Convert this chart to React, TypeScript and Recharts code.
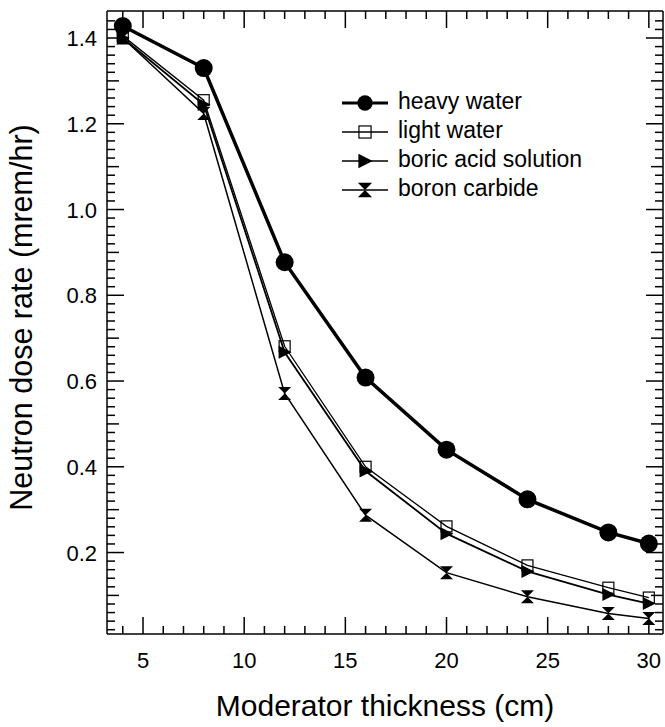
import React from "react";
import { LineChart, Line, XAxis, YAxis, Legend, ReferenceLine } from "recharts";

// moderator thickness (cm) and dose rates (mrem/hr)
const thickness = [4, 8, 12, 16, 20, 24, 28, 30];
const heavyWater = [1.428, 1.33, 0.877, 0.608, 0.44, 0.324, 0.247, 0.221];
const lightWater = [1.405, 1.255, 0.681, 0.4, 0.261, 0.17, 0.118, 0.095];
const boricAcid = [1.4, 1.245, 0.667, 0.39, 0.244, 0.156, 0.102, 0.081];
const boronCarbide = [1.4, 1.224, 0.571, 0.287, 0.153, 0.097, 0.058, 0.046];

const xLabels = [5, 10, 15, 20, 25, 30];
const yLabels = [0.2, 0.4, 0.6, 0.8, 1.0, 1.2, 1.4];

// minor ticks: every 1 cm, every 0.02 mrem/hr
const xTicks = Array.from({ length: 27 }, (_, i) => i + 4);
const yTicks = Array.from({ length: 72 }, (_, i) => ((i + 1) * 2) / 100);

const X_DOMAIN: [number, number] = [3.22, 30.7];
const Y_DOMAIN: [number, number] = [0.01, 1.463];

const data = thickness.map((x, i) => ({
  x,
  heavy: heavyWater[i],
  light: lightWater[i],
  boric: boricAcid[i],
  boron: boronCarbide[i],
}));

const font = '"Liberation Sans", Arial, sans-serif';
const MAJOR = 17;
const MID = 12;
const MINOR = 8;

const xLen = (v: number) => (xLabels.includes(v) ? MAJOR : MINOR);
const yLen = (v: number) => {
  const c = Math.round(v * 100);
  return c % 20 === 0 ? MAJOR : c % 10 === 0 ? MID : MINOR;
};
const yLabelFor = (v: number) => yLabels.find((l) => Math.abs(l - v) < 0.001);

// inward tick marks on both ends of a reference line (bottom/top, left/right)
const xTickShape = (v: number) => (p: any) => {
  const top = Math.min(p.y1, p.y2);
  const bot = Math.max(p.y1, p.y2);
  const len = xLen(v);
  return (
    <g>
      <line x1={p.x1} x2={p.x1} y1={bot} y2={bot - len} stroke="#000" strokeWidth={1.5} />
      <line x1={p.x1} x2={p.x1} y1={top} y2={top + len} stroke="#000" strokeWidth={1.5} />
    </g>
  );
};

const yTickShape = (v: number) => (p: any) => {
  const left = Math.min(p.x1, p.x2);
  const right = Math.max(p.x1, p.x2);
  const len = yLen(v);
  return (
    <g>
      <line x1={left} x2={left + len} y1={p.y1} y2={p.y1} stroke="#000" strokeWidth={1.5} />
      <line x1={right} x2={right - len} y1={p.y1} y2={p.y1} stroke="#000" strokeWidth={1.5} />
    </g>
  );
};

const bottomTick = (props: any) => {
  const v = props.payload.value;
  if (!xLabels.includes(v)) return <g key={`b-${v}`} />;
  return (
    <text key={`b-${v}`} x={props.x} y={Number(props.y) + 34} textAnchor="middle" fontSize={22} fontFamily={font} fill="#000">
      {v}
    </text>
  );
};

const leftTick = (props: any) => {
  const v = props.payload.value;
  const lab = yLabelFor(v);
  if (lab === undefined) return <g key={`l-${v}`} />;
  return (
    <text key={`l-${v}`} x={Number(props.x) - 10} y={Number(props.y) + 8} textAnchor="end" fontSize={22} fontFamily={font} fill="#000">
      {lab.toFixed(1)}
    </text>
  );
};

type Shape = "circle" | "square" | "triangle" | "hourglass";

function Marker({ shape, cx, cy, s = 1 }: { shape: Shape; cx: number; cy: number; s?: number }) {
  if (shape === "circle") return <circle cx={cx} cy={cy} r={9 * s} fill="#000" />;
  if (shape === "square") {
    const h = 5.5 * s;
    return <rect x={cx - h} y={cy - h} width={2 * h} height={2 * h} fill="none" stroke="#000" strokeWidth={1.2} />;
  }
  if (shape === "triangle") {
    return (
      <polygon
        points={`${cx - 6 * s},${cy - 6.5 * s} ${cx + 7 * s},${cy} ${cx - 6 * s},${cy + 6.5 * s}`}
        fill="#000"
      />
    );
  }
  const h = 6.5 * s;
  return (
    <polygon
      points={`${cx - h},${cy - h} ${cx + h},${cy - h} ${cx - h},${cy + h} ${cx + h},${cy + h}`}
      fill="#000"
    />
  );
}

const series: { key: string; name: string; shape: Shape; width: number }[] = [
  { key: "heavy", name: "heavy water", shape: "circle", width: 3.5 },
  { key: "light", name: "light water", shape: "square", width: 1.3 },
  { key: "boric", name: "boric acid solution", shape: "triangle", width: 1.8 },
  { key: "boron", name: "boron carbide", shape: "hourglass", width: 1.5 },
];

const dotFor = (shape: Shape) => (p: any) =>
  <Marker key={`${shape}-${p.index}`} shape={shape} cx={p.cx} cy={p.cy} />;

function LegendBox() {
  return (
    <div style={{ fontFamily: font, fontSize: 23, color: "#000" }}>
      {series.map((s) => (
        <div key={s.key} style={{ display: "flex", alignItems: "center", height: 29 }}>
          <svg width={46} height={29} style={{ display: "block" }}>
            <line x1={0} x2={46} y1={16} y2={16} stroke="#000" strokeWidth={s.key === "heavy" ? 3 : 1.5} />
            <Marker shape={s.shape} cx={23} cy={16} s={s.shape === "circle" ? 0.85 : 1.1} />
          </svg>
          <span style={{ marginLeft: 10, lineHeight: "29px", whiteSpace: "nowrap" }}>{s.name}</span>
        </div>
      ))}
    </div>
  );
}

export default function App() {
  return (
    <div style={{ position: "absolute", left: 0, top: 0, width: 665, height: 727, overflow: "hidden" }}>
      <LineChart
        width={665}
        height={727}
        data={data}
        margin={{ top: 11, right: 2, left: 0, bottom: 0 }}
      >
        <XAxis
          dataKey="x"
          type="number"
          domain={X_DOMAIN}
          allowDataOverflow
          ticks={xTicks}
          interval={0}
          height={93}
          tickSize={0}
          tickMargin={0}
          tickLine={false}
          tick={bottomTick}
          axisLine={{ stroke: "#000", strokeWidth: 1.5 }}
          label={{
            content: (p: any) => (
              <text
                x={p.viewBox.x + p.viewBox.width / 2}
                y={p.viewBox.y + 82}
                textAnchor="middle"
                fontSize={30}
                fontFamily={font}
                fill="#000"
              >
                Moderator thickness (cm)
              </text>
            ),
          }}
        />
        <YAxis
          type="number"
          domain={Y_DOMAIN}
          allowDataOverflow
          ticks={yTicks}
          interval={0}
          width={107}
          tickSize={0}
          tickMargin={0}
          tickLine={false}
          tick={leftTick}
          axisLine={{ stroke: "#000", strokeWidth: 1.5 }}
          label={{
            content: (p: any) => {
              const cx = p.viewBox.x + 32;
              const cy = p.viewBox.y + p.viewBox.height / 2 - 5;
              return (
                <text
                  x={cx}
                  y={cy}
                  transform={`rotate(-90 ${cx} ${cy})`}
                  textAnchor="middle"
                  fontSize={30.5}
                  fontFamily={font}
                  fill="#000"
                >
                  Neutron dose rate (mrem/hr)
                </text>
              );
            },
          }}
        />
        {/* frame: top and right edges */}
        <ReferenceLine y={Y_DOMAIN[1]} stroke="#000" strokeWidth={1.5} ifOverflow="visible" />
        <ReferenceLine x={X_DOMAIN[1]} stroke="#000" strokeWidth={1.5} ifOverflow="visible" />
        {xTicks.map((v) => (
          <ReferenceLine key={`xt-${v}`} x={v} ifOverflow="visible" shape={xTickShape(v)} />
        ))}
        {yTicks.map((v) => (
          <ReferenceLine key={`yt-${v}`} y={v} ifOverflow="visible" shape={yTickShape(v)} />
        ))}
        <Legend
          layout="vertical"
          align="center"
          verticalAlign="middle"
          wrapperStyle={{ top: 87, left: 342, width: 320 }}
          content={() => <LegendBox />}
        />
        {[...series].reverse().map((s) => (
          <Line
            key={s.key}
            dataKey={s.key}
            name={s.name}
            type="linear"
            stroke="#000"
            strokeWidth={s.width}
            dot={dotFor(s.shape)}
            activeDot={false}
            isAnimationActive={false}
          />
        ))}
      </LineChart>
    </div>
  );
}
